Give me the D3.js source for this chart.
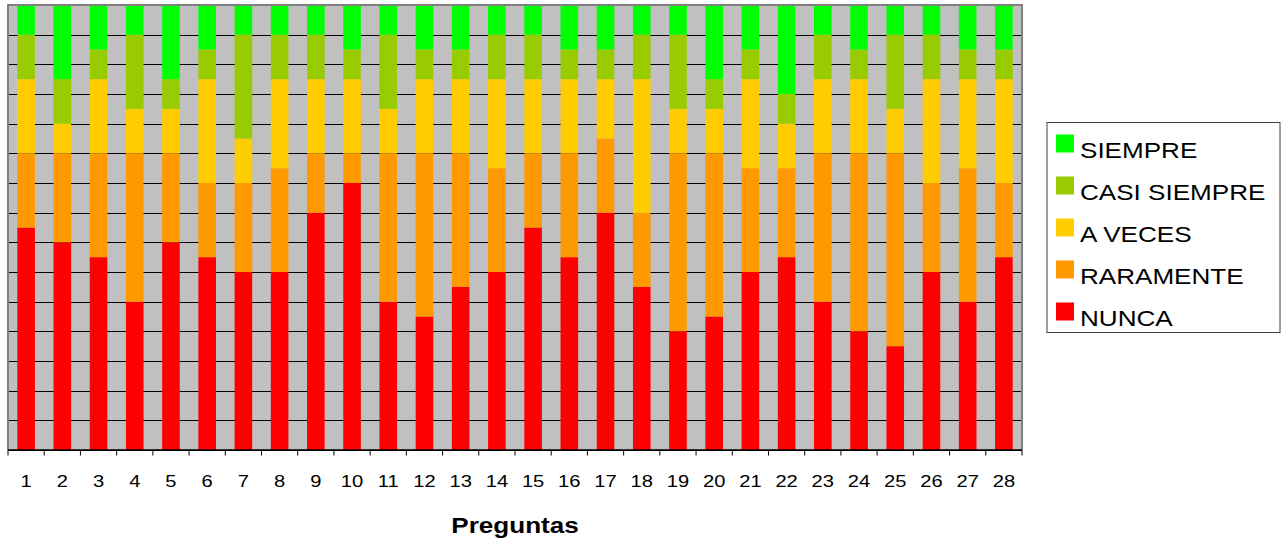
<!DOCTYPE html>
<html>
<head>
<meta charset="utf-8">
<script src="https://cdn.jsdelivr.net/npm/d3@7"></script>
<style>
  body { margin: 0; background: #ffffff; }
  svg { display: block; }
  text { font-family: "Liberation Sans", Arial, Helvetica, sans-serif; fill: #000; }
</style>
</head>
<body>
<svg id="chart" width="1288" height="546"></svg>
<script>
// Question numbers along the x axis
const categories = ["1","2","3","4","5","6","7","8","9","10","11","12","13","14",
                    "15","16","17","18","19","20","21","22","23","24","25","26","27","28"];

// Number of answers per question for each response option
const siempre     = [2,5,3,2,5,3,2,2,2,3,2,3,3,2,2,3,3,2,2,5,3,6,2,3,2,2,3,3];
const casiSiempre = [3,3,2,5,2,2,7,3,3,2,5,2,2,3,3,2,2,3,5,2,2,2,3,2,5,3,2,2];
const aVeces      = [5,2,5,3,3,7,3,6,5,5,3,5,5,6,5,5,4,9,3,3,6,3,5,5,3,7,6,7];
const raramente   = [5,6,7,10,6,5,6,7,4,2,10,11,9,7,5,7,5,5,12,11,7,6,10,12,13,6,9,5];
const nunca       = [15,14,13,10,14,13,12,12,16,18,10,9,11,12,15,13,16,11,8,9,12,13,10,8,7,12,10,13];

const seriesNames  = ["NUNCA","RARAMENTE","A VECES","CASI SIEMPRE","SIEMPRE"];
const seriesValues = [nunca, raramente, aVeces, casiSiempre, siempre];
const seriesColors = ["#ff0000","#ff9900","#ffcc00","#99cc00","#00ff00"];

const axisTitle = "Preguntas";
const yMax = 30;

// Layout
const plot = { left: 8, top: 5, right: 1022, bottom: 450 };
const stretch = 1.185; // horizontal text widening

const svg = d3.select("#chart");

// Rows for the stack
const rows = categories.map((c, i) => {
  const r = { cat: c };
  seriesNames.forEach((s, k) => { r[s] = seriesValues[k][i]; });
  return r;
});
const stacked = d3.stack().keys(seriesNames)(rows);

const x = d3.scaleBand()
  .domain(categories)
  .range([plot.left, plot.right])
  .paddingInner(0.514)
  .paddingOuter(0.257);

const y = d3.scaleLinear()
  .domain([0, yMax])
  .range([plot.bottom, plot.top]);

const color = d3.scaleOrdinal().domain(seriesNames).range(seriesColors);

// Plot background
svg.append("rect")
  .attr("x", plot.left).attr("y", plot.top)
  .attr("width", plot.right - plot.left)
  .attr("height", plot.bottom - plot.top)
  .attr("fill", "#c0c0c0");

// Horizontal gridlines
const grid = svg.append("g")
  .attr("transform", `translate(${plot.left},0)`)
  .call(d3.axisLeft(y).ticks(15).tickSize(-(plot.right - plot.left)).tickFormat(""));
grid.select(".domain").remove();
grid.selectAll("line")
  .attr("stroke", "#000")
  .attr("stroke-width", 1)
  .attr("shape-rendering", "crispEdges");

// Stacked bars
svg.append("g")
  .selectAll("g")
  .data(stacked)
  .join("g")
    .attr("fill", d => color(d.key))
  .selectAll("rect")
  .data(d => d)
  .join("rect")
    .attr("x", d => x(d.data.cat))
    .attr("width", x.bandwidth())
    .attr("y", d => y(d[1]))
    .attr("height", d => y(d[0]) - y(d[1]));

// Plot frame (left, top, right)
svg.append("path")
  .attr("d", `M${plot.left},${plot.bottom}V${plot.top}H${plot.right}V${plot.bottom}`)
  .attr("fill", "none")
  .attr("stroke", "#808080")
  .attr("stroke-width", 2);

// X axis: labels centred on bars
const xAxis = svg.append("g")
  .attr("transform", `translate(0,${plot.bottom})`)
  .call(d3.axisBottom(x).tickSize(0).tickPadding(0));
xAxis.select(".domain").remove();
xAxis.selectAll("text")
  .attr("y", 37.5)
  .attr("dy", null)
  .attr("font-size", 17)
  .attr("font-family", "\"Liberation Sans\", Arial, sans-serif")
  .attr("transform", `scale(${stretch},1)`);

// Axis line and tick marks between categories
svg.append("line")
  .attr("x1", plot.left).attr("x2", plot.right)
  .attr("y1", plot.bottom).attr("y2", plot.bottom)
  .attr("stroke", "#000").attr("stroke-width", 1.5);
const boundaries = categories.map(c => x(c) - x.step() * x.paddingInner() / 2)
  .concat([plot.right]);
svg.append("g")
  .selectAll("line")
  .data(boundaries)
  .join("line")
    .attr("x1", d => d).attr("x2", d => d)
    .attr("y1", plot.bottom).attr("y2", plot.bottom + 5.5)
    .attr("stroke", "#000").attr("stroke-width", 1);

// Axis title
svg.append("g")
  .attr("transform", `translate(${(plot.left + plot.right) / 2},533) scale(${stretch},1)`)
  .append("text")
    .attr("text-anchor", "middle")
    .attr("font-size", 22)
    .attr("font-weight", "bold")
    .text(axisTitle);

// Legend
const legend = svg.append("g").attr("transform", "translate(1047,122.5)");
legend.append("rect")
  .attr("x", 0).attr("y", 0)
  .attr("width", 233).attr("height", 210)
  .attr("fill", "#fff")
  .attr("stroke", "#404040")
  .attr("stroke-width", 1);

const legendOrder = seriesNames.slice().reverse();
const item = legend.selectAll("g.item")
  .data(legendOrder)
  .join("g")
    .attr("class", "item")
    .attr("transform", (d, i) => `translate(9,${12 + i * 42})`);
item.append("rect")
  .attr("width", 18).attr("height", 18)
  .attr("fill", d => color(d));
item.append("g")
  .attr("transform", `translate(24,23.3) scale(${stretch},1)`)
  .append("text")
    .attr("font-size", 22)
    .text(d => d);
</script>
</body>
</html>
